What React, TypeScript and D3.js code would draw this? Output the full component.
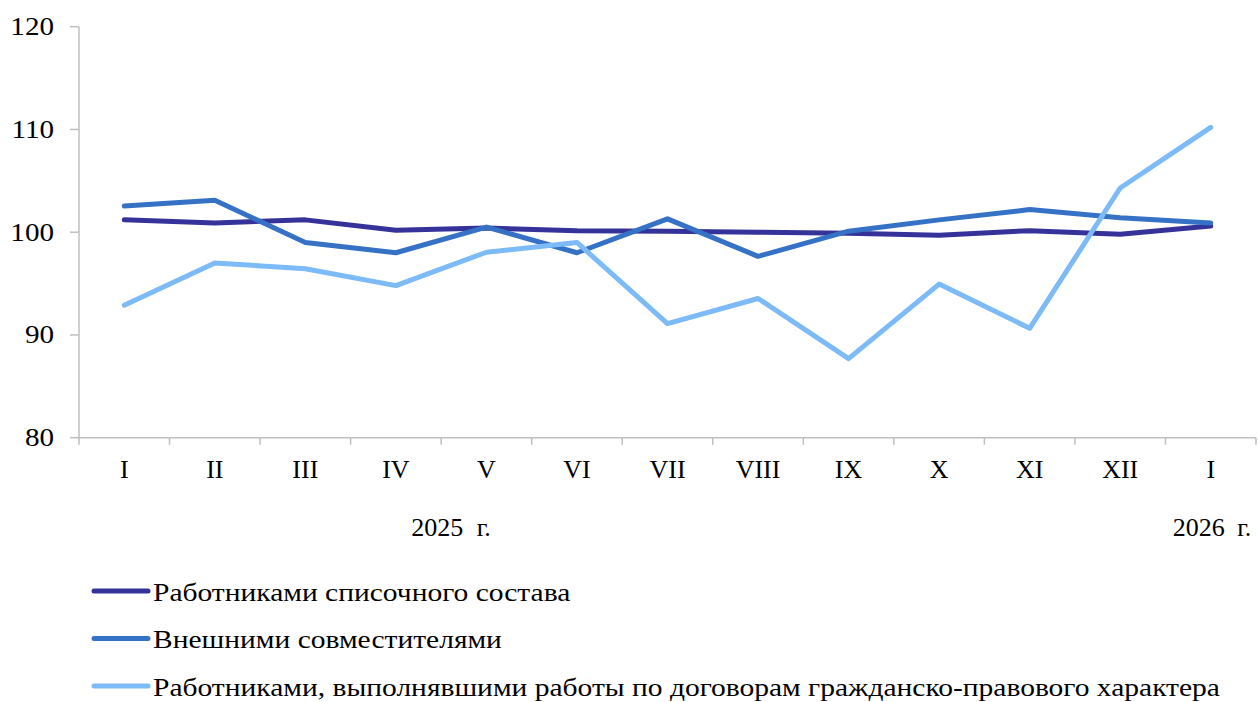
import React from "react";
import * as d3 from "d3";

const categories = ["I", "II", "III", "IV", "V", "VI", "VII", "VIII", "IX", "X", "XI", "XII", "I"];
const yTicks = [80, 90, 100, 110, 120];
const seriesNames = [
  "Работниками списочного состава",
  "Внешними совместителями",
  "Работниками, выполнявшими работы по договорам гражданско-правового характера",
];
const listStaff = [101.2, 100.9, 101.2, 100.2, 100.4, 100.15, 100.1, 100.0, 99.9, 99.7, 100.15, 99.8, 100.6];
const externalPart = [102.55, 103.1, 99.0, 98.0, 100.5, 98.0, 101.3, 97.65, 100.1, 101.2, 102.2, 101.4, 100.9];
const civilContracts = [92.9, 97.0, 96.45, 94.8, 98.05, 99.0, 91.1, 93.55, 87.7, 94.95, 90.65, 104.3, 110.2];
const colors = ["#35329a", "#3572c5", "#7cbaf8"];
const yearLabels = ["2025 г.", "2026 г."];

const W = 1258;
const H = 702;
const left = 79;
const right = 1256;
const top = 26.7;
const bottom = 437.7;
const fontStyle = { fontFamily: '"Liberation Serif", Tinos, "Times New Roman", serif' };

export default function App() {
  const x = d3.scaleBand<number>().domain(d3.range(categories.length)).range([left, right]);
  const y = d3.scaleLinear().domain([80, 120]).range([bottom, top]);
  const line = d3
    .line<number>()
    .x((_, i) => (x(i) as number) + x.bandwidth() / 2)
    .y((d) => y(d));
  const data = [listStaff, externalPart, civilContracts];
  const axisColor = "#bfbfbf";
  const tickXs = d3.range(categories.length + 1).map((i) => left + i * x.step());

  return (
    <svg
      width={W}
      height={H}
      style={{ position: "absolute", left: 0, top: 0, background: "#fff" }}
    >
      {/* y axis */}
      <line x1={left} x2={left} y1={top} y2={bottom} stroke={axisColor} strokeWidth={1.5} />
      {yTicks.map((t) => (
        <g key={t}>
          <line x1={left - 9} x2={left} y1={y(t)} y2={y(t)} stroke={axisColor} strokeWidth={1.5} />
          <text
            transform={`translate(54,${y(t) + 8.5}) scale(1.12,1)`}
            textAnchor="end"
            fontSize={26}
            fill="#000"
            style={fontStyle}
          >
            {t}
          </text>
        </g>
      ))}
      {/* x axis */}
      <line x1={left} x2={right} y1={bottom} y2={bottom} stroke={axisColor} strokeWidth={1.5} />
      {tickXs.map((tx, i) => (
        <line key={i} x1={tx} x2={tx} y1={bottom} y2={bottom + 7} stroke={axisColor} strokeWidth={1.5} />
      ))}
      {categories.map((c, i) => (
        <text
          key={i}
          x={(x(i) as number) + x.bandwidth() / 2}
          y={478}
          textAnchor="middle"
          fontSize={26}
          fill="#000"
          style={fontStyle}
        >
          {c}
        </text>
      ))}
      <text x={451} y={536} textAnchor="middle" fontSize={26} fill="#000" style={fontStyle} wordSpacing={7}>
        {yearLabels[0]}
      </text>
      <text x={1212} y={536} textAnchor="middle" fontSize={26} fill="#000" style={fontStyle} wordSpacing={6}>
        {yearLabels[1]}
      </text>
      {/* series */}
      {data.map((s, k) => (
        <path
          key={k}
          d={line(s) as string}
          fill="none"
          stroke={colors[k]}
          strokeWidth={5}
          strokeLinejoin="round"
          strokeLinecap="round"
        />
      ))}
      {/* legend */}
      {seriesNames.map((n, k) => {
        const ly = 591 + k * 47.5;
        return (
          <g key={k}>
            <line x1={94} x2={148} y1={ly} y2={ly} stroke={colors[k]} strokeWidth={5} strokeLinecap="round" />
            <text
              transform={`translate(153,${ly + 9.5}) scale(1.135,1)`}
              fontSize={26}
              fill="#000"
              style={fontStyle}
            >
              {n}
            </text>
          </g>
        );
      })}
    </svg>
  );
}
